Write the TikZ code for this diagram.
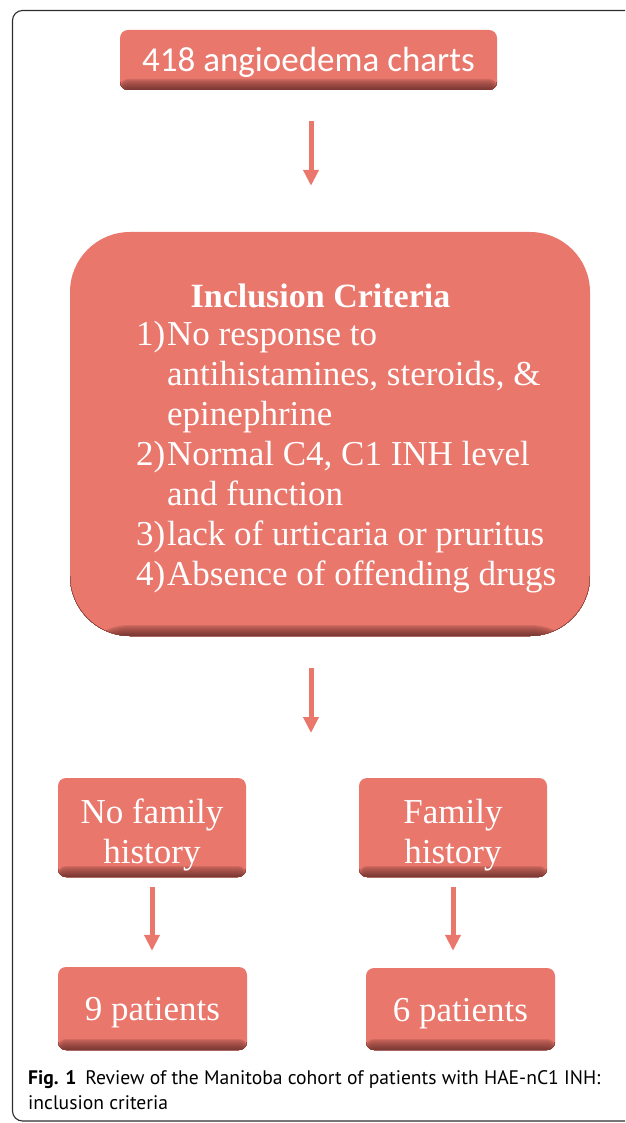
\documentclass[tikz,border=0pt]{standalone}
\usepackage{fontspec}
\setmainfont{Liberation Serif}
\newfontfamily\calibrifont{Carlito}
\newfontfamily\capfont{PT Sans}
\usetikzlibrary{arrows.meta}
\definecolor{salm}{RGB}{233,119,108}
\definecolor{salmdark}{RGB}{125,58,52}
\definecolor{framecol}{RGB}{45,45,45}
\begin{document}
\begin{tikzpicture}[x=1pt,y=-1pt,
  box/.style={rectangle, rounded corners=#1, fill=salm, text=white, inner sep=0pt,
    path picture={\foreach \i in {0,...,11}{\pgfmathtruncatemacro{\pc}{100*(\i/11)^0.6}
      \fill[salmdark!\pc!salm] ([yshift=12pt-\i pt]path picture bounding box.south west) rectangle (path picture bounding box.south east);}}},
  box/.default=8pt,
  serif35/.style={font=\fontsize{35}{40}\selectfont},
  flow/.style={draw=salm, line width=5pt, -{Triangle[width=15pt,length=16pt]}},
  captext/.style={anchor=base west, inner sep=0pt, text=black, font=\capfont\fontsize{19.6}{25}\selectfont}]
\path[use as bounding box] (0,0) rectangle (625,1123);
\begin{scope}
  \clip (0,0) rectangle (625,1123);
  \draw[framecol, line width=1.1pt, rounded corners=10pt] (12.5,10.5) rectangle (680,1121);
\end{scope}
% boxes
\node[box, minimum width=377pt, minimum height=60pt, text height=24pt, text depth=0pt,
  font=\calibrifont\fontsize{35}{40}\selectfont] (charts) at (308.5,60) {418 angioedema charts};
\node[box=60pt, minimum width=520pt, minimum height=404pt] (crit) at (330,434) {};
\node[anchor=base, inner sep=0pt, text=white, font=\bfseries\fontsize{34}{40}\selectfont] (title) at (320.5,307) {Inclusion Criteria};
\node[anchor=base west, inner sep=0pt, text=white, serif35] (list) at (136,345)
  {\begin{tabular}[t]{@{}p{31pt}@{}l@{}}
   1) & No response to\\
      & antihistamines, steroids, \&\\
      & epinephrine\\
   2) & Normal C4, C1 INH level\\
      & and function\\
   3) & lack of urticaria or pruritus\\
   4) & Absence of offending drugs
   \end{tabular}};
\node[box, minimum width=188pt, minimum height=99pt, align=center, serif35, text height=71pt, text depth=0pt] (lmid) at (152,827.5) {No family\\history};
\node[box, minimum width=188pt, minimum height=99pt, align=center, serif35, text height=71pt, text depth=0pt] (rmid) at (453,827.5) {Family\\history};
\node[box, minimum width=189pt, minimum height=83pt, serif35, text height=24pt, text depth=0pt] (lbot) at (152.5,1008.5) {9 patients};
\node[box, minimum width=189pt, minimum height=82pt, serif35, text height=24pt, text depth=0pt] (rbot) at (460.5,1009) {6 patients};
% arrows
\draw[flow, shorten <=31pt, shorten >=46pt] ([xshift=2.5pt]charts.south) -- ([xshift=2.5pt]charts.south |- crit.north);
\coordinate (split) at (311,733);
\draw[flow, shorten <=32pt] (split |- crit.south) -- (split);
\draw[flow, shorten <=10pt, shorten >=16pt] (lmid.south) -- (lmid.south |- lbot.north);
\draw[flow, shorten <=10pt, shorten >=17pt] (rmid.south) -- (rmid.south |- rbot.north);
% caption
\node[captext] (cap1) at (28,1084) {\textbf{Fig. 1}\hspace{9pt}Review of the Manitoba cohort of patients with HAE-nC1 INH:};
\node[captext] (cap2) at (28,1109) {inclusion criteria};
\end{tikzpicture}
\end{document}
